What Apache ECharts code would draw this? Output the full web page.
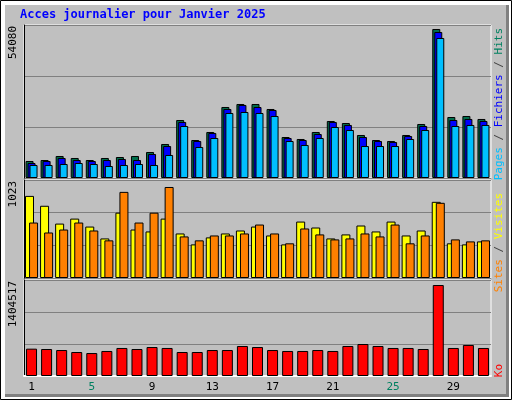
<!DOCTYPE html>
<html>
<head>
<meta charset="utf-8">
<script src="https://cdn.jsdelivr.net/npm/echarts@6/dist/echarts.min.js"></script>
<style>
  html, body { margin: 0; padding: 0; background: #fff; }
  #chart { width: 512px; height: 400px; }
</style>
</head>
<body>
<div id="chart"></div>
<script>
var days = ['1','2','3','4','5','6','7','8','9','10','11','12','13','14','15','16',
    '17','18','19','20','21','22','23','24','25','26','27','28','29','30','31'];
var weekend = [3, 4, 10, 11, 17, 18, 24, 25];

var hits = [6010, 6360, 7780, 7070, 6360, 7070, 7420, 7780, 9190, 12020, 20500, 13430, 16260, 25100, 26160, 26160,
    24390, 14490, 13790, 16260, 20150, 19440, 15200, 13430, 13080, 15200, 19090, 52670, 21560, 21920, 20860];
var files = [5300, 6010, 7070, 6360, 6010, 6360, 6720, 6360, 8480, 11310, 19800, 13080, 15910, 24390, 25810, 25100,
    24040, 14140, 13430, 15550, 19800, 18740, 14490, 13080, 12730, 14850, 18380, 51610, 20500, 20860, 20150];
var pages = [4600, 4600, 4950, 5300, 4950, 4240, 4600, 4950, 4600, 8130, 18380, 10960, 14140, 22980, 23330, 22980,
    21920, 13080, 11670, 14140, 18030, 16970, 11310, 11310, 11310, 13790, 16970, 49490, 18380, 18740, 18740];

var sites = [857, 754, 568, 620, 537, 413, 682, 506, 486, 620, 465, 351, 424, 465, 496, 537,
    444, 351, 589, 527, 413, 455, 548, 486, 589, 444, 496, 795, 362, 351, 382];
var visits = [579, 475, 506, 579, 496, 393, 899, 579, 682, 950, 434, 393, 444, 444, 465, 558,
    465, 362, 517, 455, 403, 413, 465, 434, 558, 362, 444, 785, 403, 382, 393];

var ko = [400000, 395000, 380000, 351000, 336000, 366000, 410000, 395000, 424000, 410000, 351000, 351000, 380000, 380000, 439000, 424000,
    380000, 366000, 366000, 380000, 366000, 439000, 468000, 439000, 410000, 410000, 395000, 1331000, 410000, 454000, 410000];

var maxHits = 54080, maxSites = 1023, maxKo = 1404517;

var mono = 'DejaVu Sans Mono';
var myChart = echarts.init(document.getElementById('chart'));

function yAx(idx, max) {
    return {
        gridIndex: idx, min: 0, max: max, interval: max / 3,
        axisLabel: {show: false}, axisTick: {show: false},
        axisLine: {show: true, lineStyle: {color: '#000', width: 1}},
        splitLine: {show: true, lineStyle: {color: '#808080', width: 1}}
    };
}
function xAx(idx, showLabels) {
    return {
        type: 'category', gridIndex: idx, data: days,
        axisTick: {show: false},
        axisLine: {show: showLabels, lineStyle: {color: '#fff', width: 2}},
        axisLabel: {
            show: showLabels, margin: 6, fontFamily: mono, fontSize: 11,
            formatter: function (v, i) {
                return weekend.indexOf(i) >= 0 ? '{w|' + v + '}' : '{d|' + v + '}';
            },
            rich: {w: {color: '#008060', fontFamily: mono, fontSize: 11},
                   d: {color: '#000', fontFamily: mono, fontSize: 11}}
        }
    };
}
function bar(name, data, color, xi, width, gap) {
    return {
        name: name, type: 'bar', xAxisIndex: xi, yAxisIndex: xi, data: data,
        barWidth: width, barGap: gap, animation: false,
        itemStyle: {color: color, borderColor: '#000', borderWidth: 1}
    };
}
function vText(x, y, rich, text) {
    return {
        type: 'text', x: x, y: y, rotation: Math.PI / 2,
        style: {text: text, rich: rich, fontFamily: mono, fontSize: 11,
                align: 'right', verticalAlign: 'middle', fill: '#000'}
    };
}

var option = {
    backgroundColor: '#fff',
    graphic: [
        {type: 'rect', shape: {x: 0.5, y: 0.5, width: 511, height: 399}, style: {fill: '#fff', stroke: '#000'}, z: -10},
        {type: 'rect', shape: {x: 5, y: 5, width: 504, height: 392}, style: {fill: '#808080'}, z: -9},
        {type: 'rect', shape: {x: 5, y: 5, width: 501, height: 389}, style: {fill: '#c0c0c0'}, z: -8},
        {type: 'text', x: 20, y: 15, style: {text: 'Acces journalier pour Janvier 2025', fill: '#0000ff',
            fontFamily: mono, fontSize: 12, fontWeight: 'bold', verticalAlign: 'middle'}},
        vText(13, 26, {}, '54080'),
        vText(13, 181, {}, '1023'),
        vText(13, 281, {}, '1404517'),
        vText(499, 28, {
            p: {fill: '#00bfff', fontFamily: mono, fontSize: 11},
            f: {fill: '#0000ff', fontFamily: mono, fontSize: 11},
            h: {fill: '#008060', fontFamily: mono, fontSize: 11},
            s: {fill: '#404040', fontFamily: mono, fontSize: 11}
        }, '{p|Pages}{s| / }{f|Fichiers}{s| / }{h|Hits}'),
        vText(499, 193, {
            o: {fill: '#ff8000', fontFamily: mono, fontSize: 11},
            y: {fill: '#ffff00', fontFamily: mono, fontSize: 11},
            s: {fill: '#404040', fontFamily: mono, fontSize: 11}
        }, '{o|Sites}{s| / }{y|Visites}'),
        vText(499, 364, {r: {fill: '#ff0000', fontFamily: mono, fontSize: 11}}, '{r|Ko}')
    ],
    grid: [
        {left: 24, width: 467, top: 25, height: 153, show: true, backgroundColor: '#c0c0c0', borderColor: '#fff', borderWidth: 1},
        {left: 24, width: 467, top: 180, height: 98, show: true, backgroundColor: '#c0c0c0', borderColor: '#fff', borderWidth: 1},
        {left: 24, width: 467, top: 280, height: 96, show: true, backgroundColor: '#c0c0c0', borderColor: '#fff', borderWidth: 1}
    ],
    xAxis: [xAx(0, false), xAx(1, false), xAx(2, true)],
    yAxis: [yAx(0, maxHits), yAx(1, maxSites), yAx(2, maxKo)],
    series: [
        bar('Hits', hits, '#006e4b', 0, 8, '-75%'),
        bar('Fichiers', files, '#0000ff', 0, 8, '-75%'),
        bar('Pages', pages, '#00bfff', 0, 8, '-75%'),
        bar('Visites', sites, '#ffff00', 1, 9, '-55%'),
        bar('Sites', visits, '#ff8000', 1, 9, '-55%'),
        bar('Ko', ko, '#ff0000', 2, 11, '0%')
    ]
};

myChart.setOption(option);
</script>
</body>
</html>
